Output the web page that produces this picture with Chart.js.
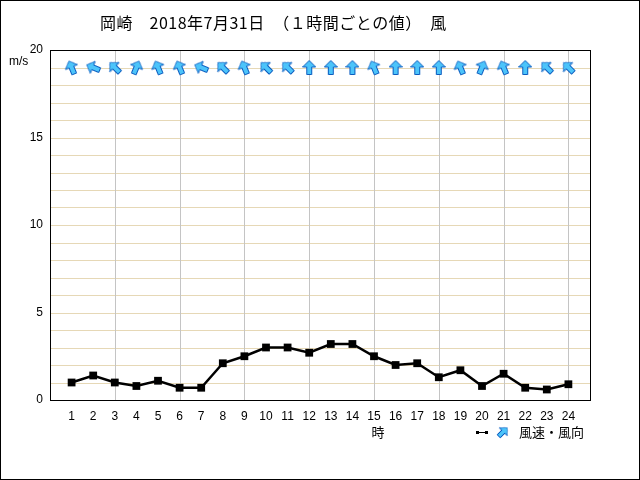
<!DOCTYPE html>
<html>
<head>
<meta charset="utf-8">
<script src="https://cdn.jsdelivr.net/npm/chart.js@4/dist/chart.umd.min.js"></script>
<style>
    body { margin: 0; background: #fff; }
    canvas { display: block; }
</style>
</head>
<body>
<canvas id="windChart" width="640" height="480"></canvas>
<script>
const hours = [1, 2, 3, 4, 5, 6, 7, 8, 9, 10, 11, 12, 13, 14, 15, 16, 17, 18, 19, 20, 21, 22, 23, 24];
const windSpeed = [1.0, 1.4, 1.0, 0.8, 1.1, 0.7, 0.7, 2.1, 2.5, 3.0, 3.0, 2.7, 3.2, 3.2, 2.5, 2.0, 2.1, 1.3, 1.7, 0.8, 1.5, 0.7, 0.6, 0.9];
// direction the wind blows from
const windDir = ['南南東', '東南東', '南東', '南南西', '南南東', '南南東', '東南東', '南東', '南南東', '南東', '南東', '南',
    '南', '南', '南南東', '南', '南', '南', '南南東', '南南西', '南南東', '南', '南東', '南東'];
const yTicks = [0, 5, 10, 15, 20];
const compass = ['北', '北北東', '北東', '東北東', '東', '東南東', '南東', '南南東', '南', '南南西', '南西', '西南西', '西', '西北西', '北西', '北北西'];

const titleText = '岡崎　2018年7月31日　（１時間ごとの値）　風';
const jpFont = '"Noto Sans CJK JP", sans-serif';
const numFont = '"Liberation Sans", Arial, sans-serif';

// arrow icon pointing up
function makeArrow() {
    const c = document.createElement('canvas');
    c.width = 14;
    c.height = 15;
    const g = c.getContext('2d');
    g.beginPath();
    g.moveTo(7, 0.5);
    g.lineTo(13.5, 7);
    g.lineTo(9.5, 7);
    g.lineTo(9.5, 14.5);
    g.lineTo(4.5, 14.5);
    g.lineTo(4.5, 7);
    g.lineTo(0.5, 7);
    g.closePath();
    g.fillStyle = '#4cc4fa';
    g.fill();
    g.strokeStyle = '#0a5cc0';
    g.lineWidth = 1;
    g.stroke();
    return c;
}
const arrow = makeArrow();
const arrowRotation = windDir.map(d => (compass.indexOf(d) * 22.5 + 180) % 360);

const decor = {
    id: 'decor',
    beforeDraw(chart) {
        const ctx = chart.ctx;
        ctx.save();
        ctx.fillStyle = '#fff';
        ctx.fillRect(0, 0, chart.width, chart.height);
        ctx.restore();
    },
    beforeDatasetsDraw(chart) {
        // 1 m/s horizontal lines, pixel aligned
        const ctx = chart.ctx;
        const a = chart.chartArea;
        const y = chart.scales.y;
        ctx.save();
        ctx.strokeStyle = '#e6d8b6';
        ctx.lineWidth = 1;
        for (let v = 1; v < 20; v++) {
            const py = Math.round(y.getPixelForValue(v)) + 0.5;
            ctx.beginPath();
            ctx.moveTo(a.left, py);
            ctx.lineTo(a.right, py);
            ctx.stroke();
        }
        const x = chart.scales.x;
        ctx.strokeStyle = '#c4c4c4';
        for (let h = 3; h <= 24; h += 3) {
            const px = Math.round(x.getPixelForValue(h)) + 0.5;
            ctx.beginPath();
            ctx.moveTo(px, a.top);
            ctx.lineTo(px, a.bottom);
            ctx.stroke();
        }
        ctx.restore();
    },
    afterDraw(chart) {
        const ctx = chart.ctx;
        const a = chart.chartArea;
        ctx.save();
        ctx.strokeStyle = '#000';
        ctx.lineWidth = 1;
        ctx.strokeRect(0.5, 0.5, chart.width - 1, chart.height - 1);
        ctx.strokeRect(a.left + 0.5, a.top + 0.5, a.right - a.left, a.bottom - a.top);

        ctx.fillStyle = '#000';
        ctx.textBaseline = 'middle';
        ctx.font = '16px ' + jpFont;
        ctx.textAlign = 'left';
        ctx.letterSpacing = '0.5px';
        ctx.fillText(titleText, 100, 23);
        ctx.letterSpacing = '0px';

        ctx.font = '12px ' + numFont;
        ctx.fillText('m/s', 9, 62);

        ctx.font = '13px ' + jpFont;
        ctx.textAlign = 'center';
        ctx.fillText('時', chart.scales.x.getPixelForValue(15) + 4, 432);

        // legend
        ctx.strokeStyle = '#000';
        ctx.beginPath();
        ctx.moveTo(477, 432.5);
        ctx.lineTo(487, 432.5);
        ctx.stroke();
        ctx.fillRect(476, 431, 3, 3);
        ctx.fillRect(485, 431, 3, 3);
        ctx.translate(503, 432);
        ctx.rotate(Math.PI / 4);
        ctx.drawImage(arrow, -6, -6.5, 12, 13);
        ctx.setTransform(1, 0, 0, 1, 0, 0);
        ctx.textAlign = 'left';
        ctx.fillText('風速・風向', 519, 432);
        ctx.restore();
    }
};

const ctx = document.getElementById('windChart').getContext('2d');
new Chart(ctx, {
    type: 'scatter',
    data: {
        datasets: [{
            label: '風速',
            type: 'line',
            data: hours.map((h, i) => ({ x: h, y: windSpeed[i] })),
            borderColor: '#000',
            backgroundColor: '#000',
            borderWidth: 2.5,
            pointStyle: 'rect',
            pointRadius: 5.5,
            pointBorderWidth: 0,
            tension: 0
        }, {
            label: '風向',
            data: hours.map(h => ({ x: h, y: 19 })),
            pointStyle: arrow,
            rotation: arrowRotation
        }]
    },
    options: {
        responsive: false,
        animation: false,
        devicePixelRatio: 1,
        layout: { padding: { left: 0, top: 50, right: 50, bottom: 0 } },
        plugins: {
            legend: { display: false },
            tooltip: { enabled: false }
        },
        scales: {
            x: {
                type: 'linear',
                min: 0,
                max: 25,
                afterFit: (s) => { s.height = 80; },
                afterBuildTicks: (s) => { s.ticks = Array.from({ length: 26 }, (_, i) => ({ value: i })); },
                ticks: {
                    autoSkip: false,
                    maxRotation: 0,
                    padding: 9,
                    color: '#000',
                    font: { family: numFont, size: 12 },
                    callback: (v) => (v >= 1 && v <= 24 ? v : '')
                },
                grid: { display: false, drawTicks: false },
                border: { color: '#000' }
            },
            y: {
                min: 0,
                max: 20,
                afterFit: (s) => { s.width = 50; },
                afterBuildTicks: (s) => { s.ticks = Array.from({ length: 21 }, (_, i) => ({ value: i })); },
                ticks: {
                    padding: 7,
                    color: '#000',
                    font: { family: numFont, size: 12 },
                    callback: (v) => (yTicks.includes(v) ? v : '')
                },
                grid: { display: false, drawTicks: false },
                border: { color: '#000' }
            }
        }
    },
    plugins: [decor]
});
</script>
</body>
</html>
